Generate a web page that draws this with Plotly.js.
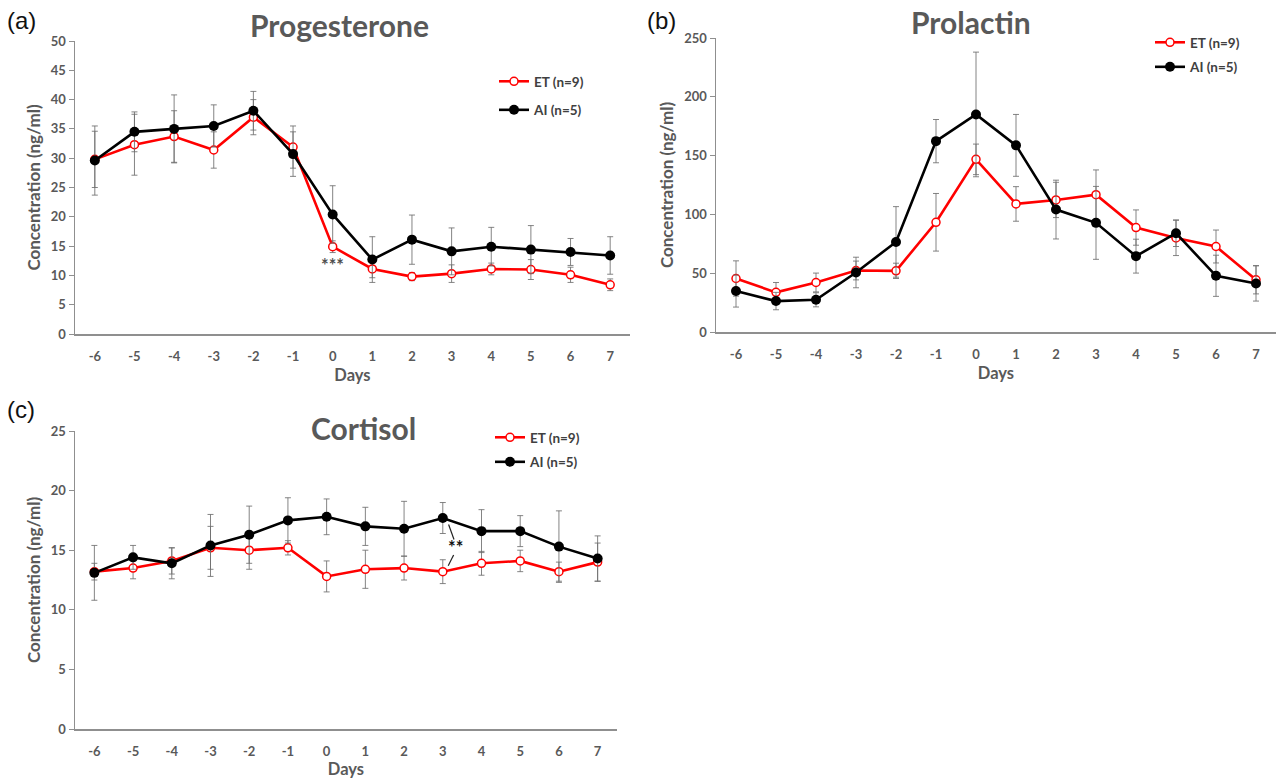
<!DOCTYPE html>
<html>
<head>
<meta charset="utf-8">
<script src="https://cdn.plot.ly/plotly-3.0.1.min.js"></script>
<style>
html,body{margin:0;padding:0;background:#fff;}
#chart{width:1276px;height:779px;}
</style>
</head>
<body>
<div id="chart"></div>
<script>
// ---- data ----
const days = [-6,-5,-4,-3,-2,-1,0,1,2,3,4,5,6,7];
const dayLabels = ["-6","-5","-4","-3","-2","-1","0","1","2","3","4","5","6","7"];
const seriesNames = ["ET (n=9)", "AI (n=5)"];
const panelTitles = ["Progesterone", "Prolactin", "Cortisol"];
const panelLetters = ["(a)", "(b)", "(c)"];

const progET    = [29.8,32.3,33.7,31.4,37.0,31.9,14.9,11.1,9.8,10.3,11.1,11.0,10.1,8.4];
const progETerr = [4.8,5.2,4.4,3.1,3.0,3.6,1.0,1.5,0.7,1.5,1.0,1.7,1.3,1.0];
const progAI    = [29.6,34.5,35.0,35.5,38.1,30.7,20.4,12.7,16.1,14.1,14.9,14.4,14.0,13.4];
const progAIerr = [5.9,3.4,5.8,3.6,3.3,3.8,4.9,3.9,4.2,4.0,3.3,4.1,2.3,3.2];

const prlET     = [45.5,33.7,42.1,52.3,52.0,93.3,146.8,108.9,112.3,116.8,88.8,80.0,72.7,44.4];
const prlETerr  = [15,8.4,8,8,6.5,24.5,13,14.7,15,21,15,15,14,12];
const prlAI     = [34.8,26.3,27.4,50.6,76.6,162.3,185.0,158.7,104.1,92.8,64.5,84.0,47.8,41.3];
const prlAIerr  = [13.6,7.4,6,13,30,18.4,53,26.3,25,31,14.4,11.3,17.5,15];

const corET     = [13.2,13.5,14.1,15.2,15.0,15.2,12.8,13.4,13.5,13.2,13.9,14.1,13.2,14.0];
const corETerr  = [0.7,0.9,1.1,1.8,1.6,0.6,1.3,1.6,1.0,1.0,1.0,0.9,0.8,1.6];
const corAI     = [13.1,14.4,13.9,15.4,16.3,17.5,17.8,17.0,16.8,17.7,16.6,16.6,15.3,14.3];
const corAIerr  = [2.3,1.0,1.3,2.6,2.4,1.9,1.5,1.6,2.3,1.3,1.8,1.3,3.0,1.9];

const yMax = [50, 250, 25];
const yStep = [5, 50, 5];

// significance marks
const sigProg = {x: 0, y: 11.8, text: "***"};
const sigCort = {x: 3.33, y: 15.3, text: "**"};
const cortBracketUpper = {x0: 3.15, y0: 17.15, x1: 3.29, y1: 15.9};
const cortBracketLower = {x0: 3.28, y0: 14.6, x1: 3.14, y1: 13.7};

// ---- styling ----
const RED = "#ff0000", BLACK = "#000000", GRAY = "#595959", AXIS = "#8f8f8f";
const ERR = "rgba(110,110,110,0.85)";
const FONT = "Lato, 'Open Sans', sans-serif";

function traces(et, etErr, ai, aiErr, ax, leg) {
  const xa = ax === 1 ? "x" : "x" + ax, ya = ax === 1 ? "y" : "y" + ax;
  return [
    {x: days, y: et, type: "scatter", mode: "lines+markers", name: seriesNames[0],
     xaxis: xa, yaxis: ya, legend: leg, legendgroup: "et" + ax,
     line: {color: RED, width: 2.6},
     marker: {symbol: "circle", size: 8, color: "#ffffff", line: {color: RED, width: 1.5}},
     error_y: {type: "data", array: etErr, visible: true, color: ERR, thickness: 1, width: 3}},
    {x: days, y: ai, type: "scatter", mode: "lines+markers", name: seriesNames[1],
     xaxis: xa, yaxis: ya, legend: leg, legendgroup: "ai" + ax,
     line: {color: BLACK, width: 2.6},
     marker: {symbol: "circle", size: 10, color: BLACK},
     error_y: {type: "data", array: aiErr, visible: true, color: ERR, thickness: 1, width: 3}}
  ];
}

const data = [].concat(
  traces(progET, progETerr, progAI, progAIerr, 1, "legend"),
  traces(prlET, prlETerr, prlAI, prlAIerr, 2, "legend2"),
  traces(corET, corETerr, corAI, corAIerr, 3, "legend3")
);

function xaxis(domain, anchor) {
  return {
    domain: domain, anchor: anchor, range: [-6.5, 7.5],
    tickmode: "array", tickvals: days, ticktext: dayLabels,
    showline: true, linecolor: AXIS, linewidth: 1.5, showgrid: false, zeroline: false,
    ticks: "", ticklabelstandoff: 10,
    tickfont: {family: FONT, size: 13, color: GRAY, weight: "bold"},
    title: {text: "<b>Days</b>", font: {family: FONT, size: 16.5, color: GRAY}, standoff: 6},
    fixedrange: true
  };
}
function yaxis(domain, anchor, i) {
  const vals = [];
  for (let v = 0; v <= yMax[i] + 1e-9; v += yStep[i]) vals.push(v);
  return {
    domain: domain, anchor: anchor, range: [0, yMax[i]],
    tickmode: "array", tickvals: vals,
    showline: true, linecolor: AXIS, linewidth: 1.5, showgrid: false, zeroline: false,
    ticks: "outside", ticklen: 5, tickcolor: AXIS,
    tickfont: {family: FONT, size: 13, color: GRAY, weight: "bold"},
    title: {text: "<b>Concentration (ng/ml)</b>", font: {family: FONT, size: 17, color: GRAY}, standoff: 6},
    fixedrange: true
  };
}

const W = 1276, H = 779;
const px = v => v / W, py = v => (H - v) / H;

function legendAt(xpx, ypx, gap) {
  return {x: px(xpx), y: py(ypx), xanchor: "left", yanchor: "top",
    bgcolor: "rgba(0,0,0,0)", tracegroupgap: gap, itemwidth: 30,
    font: {family: FONT, size: 13.5, color: "#404040", weight: "bold"}};
}

const titleFont = {family: FONT, size: 30, color: GRAY};
const letterFont = {family: "Liberation Sans, Arial, sans-serif", size: 24, color: "#111"};
const annotations = [
  {text: "<b>" + panelTitles[0] + "</b>", x: px(339), y: py(25), xref: "paper", yref: "paper", xanchor: "center", yanchor: "middle", showarrow: false, font: titleFont},
  {text: "<b>" + panelTitles[1] + "</b>", x: px(971), y: py(22), xref: "paper", yref: "paper", xanchor: "center", yanchor: "middle", showarrow: false, font: titleFont},
  {text: "<b>" + panelTitles[2] + "</b>", x: px(363), y: py(428), xref: "paper", yref: "paper", xanchor: "center", yanchor: "middle", showarrow: false, font: titleFont},
  {text: panelLetters[0], x: px(5), y: py(21), xref: "paper", yref: "paper", xanchor: "left", yanchor: "middle", showarrow: false, font: letterFont},
  {text: panelLetters[1], x: px(645), y: py(21), xref: "paper", yref: "paper", xanchor: "left", yanchor: "middle", showarrow: false, font: letterFont},
  {text: panelLetters[2], x: px(5), y: py(409), xref: "paper", yref: "paper", xanchor: "left", yanchor: "middle", showarrow: false, font: letterFont},
  {text: "<b>" + sigProg.text + "</b>", x: sigProg.x, y: sigProg.y, xref: "x", yref: "y", showarrow: false,
   font: {family: FONT, size: 18, color: "#505050"}},
  {text: "<b>" + sigCort.text + "</b>", x: sigCort.x, y: sigCort.y, xref: "x3", yref: "y3", showarrow: false,
   font: {family: FONT, size: 18, color: "#111"}}
];

const shapes = [cortBracketUpper, cortBracketLower].map(b => ({
  type: "line", xref: "x3", yref: "y3", x0: b.x0, y0: b.y0, x1: b.x1, y1: b.y1,
  line: {color: "#222", width: 1.2}
}));

const layout = {
  width: W, height: H,
  margin: {l: 0, r: 0, t: 0, b: 0},
  paper_bgcolor: "#ffffff", plot_bgcolor: "#ffffff",
  showlegend: true,
  xaxis:  xaxis([px(75), px(630)], "y"),
  yaxis:  yaxis([py(334), py(41)], "x", 0),
  xaxis2: xaxis([px(716), px(1276)], "y2"),
  yaxis2: yaxis([py(332), py(38)], "x2", 1),
  xaxis3: xaxis([px(75), px(617)], "y3"),
  yaxis3: yaxis([py(729), py(431)], "x3", 2),
  legend:  legendAt(494, 66, 8),
  legend2: legendAt(1150, 27, 4),
  legend3: legendAt(490, 422, 4),
  annotations: annotations,
  shapes: shapes
};

Plotly.newPlot("chart", data, layout, {displayModeBar: false, staticPlot: true});
</script>
</body>
</html>
